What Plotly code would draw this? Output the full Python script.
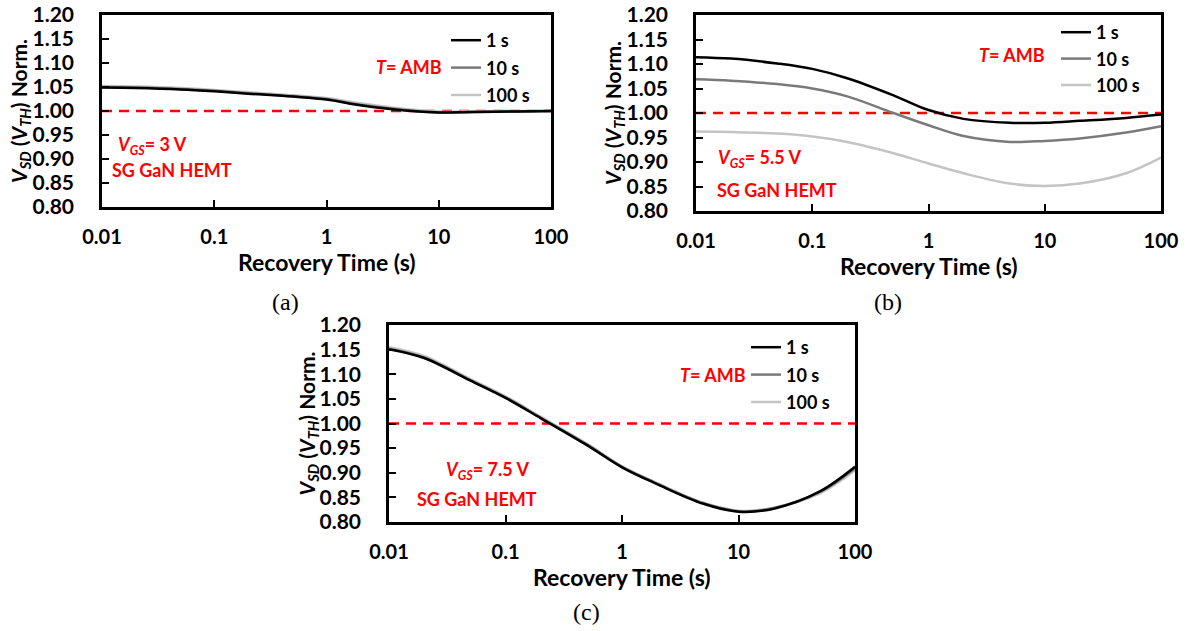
import plotly.graph_objects as go

# ---------------- data ----------------
t = [0.01, 0.02, 0.05, 0.1, 0.2, 0.5, 1, 2, 5, 10, 20, 50, 100]
series_names = ["1 s", "10 s", "100 s"]
series_colors = ["#000000", "#7a7a7a", "#c4c4c4"]

# (a) VGS = 3 V
a_1s   = [1.049, 1.048, 1.045, 1.041, 1.036, 1.030, 1.024, 1.012, 1.001, 0.997, 0.998, 0.999, 1.000]
a_10s  = [1.050, 1.049, 1.046, 1.042, 1.037, 1.031, 1.025, 1.013, 1.002, 0.997, 0.998, 0.999, 1.000]
a_100s = [1.052, 1.051, 1.048, 1.044, 1.039, 1.033, 1.027, 1.016, 1.004, 0.999, 0.999, 1.000, 1.000]

# (b) VGS = 5.5 V
b_1s   = [1.114, 1.111, 1.101, 1.090, 1.071, 1.036, 1.006, 0.988, 0.980, 0.980, 0.984, 0.990, 0.997]
b_10s  = [1.069, 1.066, 1.059, 1.050, 1.034, 1.000, 0.975, 0.953, 0.941, 0.943, 0.948, 0.960, 0.973]
b_100s = [0.962, 0.961, 0.958, 0.952, 0.941, 0.918, 0.897, 0.877, 0.856, 0.851, 0.856, 0.877, 0.909]

# (c) VGS = 7.5 V
c_1s   = [1.151, 1.133, 1.087, 1.052, 1.011, 0.956, 0.911, 0.877, 0.837, 0.821, 0.827, 0.862, 0.912]
c_10s  = [1.152, 1.134, 1.088, 1.053, 1.012, 0.957, 0.912, 0.878, 0.838, 0.822, 0.828, 0.861, 0.909]
c_100s = [1.155, 1.137, 1.090, 1.055, 1.014, 0.959, 0.913, 0.879, 0.839, 0.823, 0.829, 0.858, 0.905]

ref_level = 1.00
x_ticks = [0.01, 0.1, 1, 10, 100]
x_tick_text = ["0.01", "0.1", "1", "10", "100"]
y_ticks = [0.80, 0.85, 0.90, 0.95, 1.00, 1.05, 1.10, 1.15, 1.20]
vgs_labels = ["3 V", "5.5 V", "7.5 V"]
captions = ["(a)", "(b)", "(c)"]
x_title = "Recovery Time (s)"
y_title = "<i>V</i><sub><i>SD</i></sub> (<i>V</i><sub><i>TH</i></sub>) Norm."

panels = [
    [a_1s, a_10s, a_100s],
    [b_1s, b_10s, b_100s],
    [c_1s, c_10s, c_100s],
]

# ---------------- layout geometry ----------------
W, H = 1189, 631


def px(x):
    return x / W


def py(y):
    return 1 - y / H


boxes = [  # left, right, top, bottom (px)
    (102, 551, 15, 207),
    (696, 1161, 15, 211),
    (389, 855, 325, 522),
]

FONT = "Lato"
RED = "#ff0000"

fig = go.Figure()

legend_names = ["legend", "legend2", "legend3"]
for i, data in enumerate(panels):
    xa = "x" if i == 0 else f"x{i+1}"
    ya = "y" if i == 0 else f"y{i+1}"
    fig.add_trace(go.Scatter(
        x=[x_ticks[0], x_ticks[-1]], y=[ref_level, ref_level], mode="lines",
        line=dict(color=RED, width=2.5, dash="10px,7px"),
        showlegend=False, hoverinfo="skip", xaxis=xa, yaxis=ya))
    for k in [2, 1, 0]:
        fig.add_trace(go.Scatter(
            x=t, y=data[k], mode="lines", name=series_names[k],
            line=dict(color=series_colors[k], width=2.5, shape="spline", smoothing=1.0),
            legend=legend_names[i], legendrank=k + 1, legendgroup=f"p{i}s{k}",
            xaxis=xa, yaxis=ya))

layout = dict(
    width=W, height=H,
    margin=dict(l=0, r=0, t=0, b=0, autoexpand=False),
    paper_bgcolor="white", plot_bgcolor="white",
    font=dict(family=FONT, size=20, color="black", weight="bold"),
)


def note(x, y, text, size=18, color="black", family=FONT, weight="bold", angle=0):
    return dict(x=px(x), y=py(y), xref="paper", yref="paper", text=text,
                showarrow=False, xanchor="center", yanchor="middle", textangle=angle,
                font=dict(size=size, color=color, family=family, weight=weight))


annotations = []
for i, (l, r, tp, bt) in enumerate(boxes):
    xk = "xaxis" if i == 0 else f"xaxis{i+1}"
    yk = "yaxis" if i == 0 else f"yaxis{i+1}"
    ya = "y" if i == 0 else f"y{i+1}"
    xa = "x" if i == 0 else f"x{i+1}"
    layout[xk] = dict(
        type="log", range=[-2, 2], domain=[px(l), px(r)], anchor=ya, automargin=False,
        tickvals=x_ticks, ticktext=x_tick_text, ticks="inside", ticklen=7, tickwidth=2,
        tickcolor="black", showline=True, mirror=True, linecolor="black", linewidth=2.5,
        showgrid=False, zeroline=False, ticklabelstandoff=10,
        tickfont=dict(size=20, family=FONT, weight="bold"),
    )
    layout[yk] = dict(
        range=[0.80, 1.20], domain=[py(bt), py(tp)], anchor=xa, automargin=False,
        tickvals=y_ticks, tickformat=".2f", ticks="inside", ticklen=7, tickwidth=2,
        tickcolor="black", showline=True, mirror=True, linecolor="black", linewidth=2.5,
        showgrid=False, zeroline=False, ticklabelstandoff=21,
        tickfont=dict(size=21, family=FONT, weight="bold"),
    )
    annotations.append(note((l + r) / 2, bt + 55, x_title, size=23))
    annotations.append(note(l - 82, (tp + bt) / 2, y_title, size=21, angle=-90))

# legends
legend_pos = [(446, 22), (1056, 14), (746, 329)]
legend_gaps = [1, 0, 1]
for i, (lx, ly) in enumerate(legend_pos):
    layout[legend_names[i]] = dict(
        x=px(lx), y=py(ly), xanchor="left", yanchor="top",
        bgcolor="rgba(0,0,0,0)", borderwidth=0, itemwidth=30,
        traceorder="grouped", tracegroupgap=legend_gaps[i],
        font=dict(size=18, family=FONT, weight="bold", color="black"),
    )

t_amb_pos = [(409, 67), (1012, 55), (713, 375)]
vgs_pos = [(152, 145), (759, 158), (487, 470)]
sg_pos = [(172, 170), (777, 190), (477, 499)]
cap_pos = [(285, 302), (888, 302), (586, 612)]
for i in range(3):
    annotations.append(note(*t_amb_pos[i], "<i>T</i>= AMB", color=RED))
    annotations.append(note(*vgs_pos[i], f"<i>V</i><sub><i>GS</i></sub>= {vgs_labels[i]}", color=RED))
    annotations.append(note(*sg_pos[i], "SG GaN HEMT", color=RED))
    annotations.append(note(*cap_pos[i], captions[i], size=24, family="Liberation Serif", weight="normal"))
layout["annotations"] = annotations

fig.update_layout(**layout)
# remove the page's default 8 px body margin so the figure sits at the window origin
fig.write_html("out.html", config={"displayModeBar": False},
               post_script="document.body.style.margin='0';document.body.style.overflow='hidden';")
